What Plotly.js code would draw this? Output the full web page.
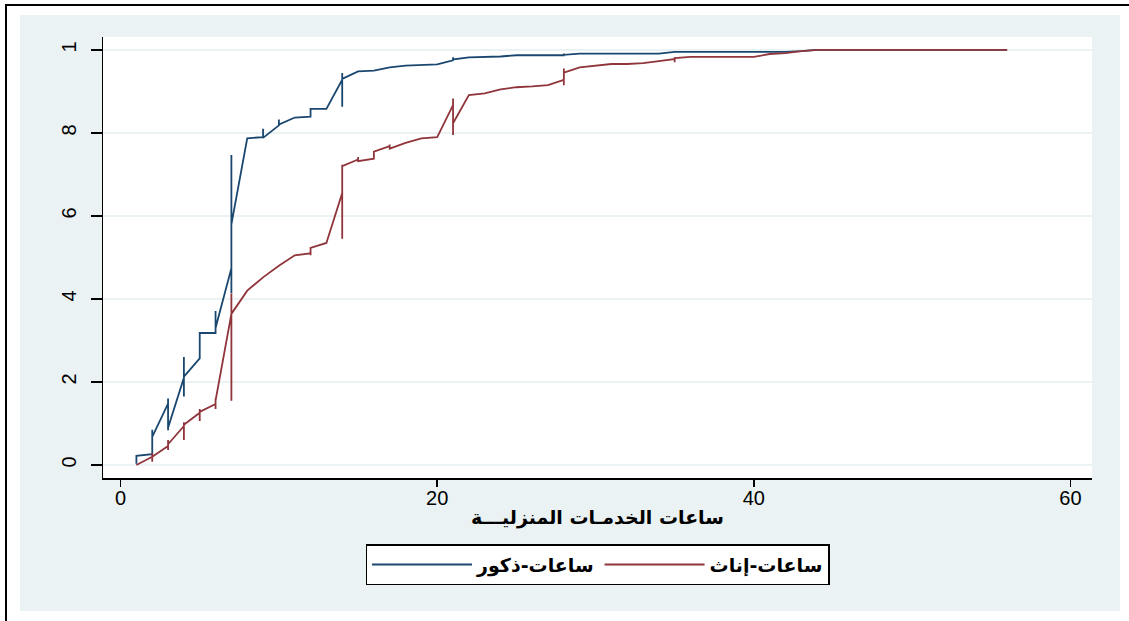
<!DOCTYPE html>
<html>
<head>
<meta charset="utf-8">
<script src="https://cdn.plot.ly/plotly-3.0.1.min.js"></script>
<style>
  html, body { margin: 0; padding: 0; background: #ffffff; width: 1129px; height: 621px; overflow: hidden; }
  #frame { position: absolute; left: 5px; top: 4px; width: 1140px; height: 640px;
           border-left: 2.5px solid #000; border-top: 2.5px solid #000; }
  #chart { position: absolute; left: 20px; top: 15px; width: 1100px; height: 596px; }
</style>
</head>
<body>
<div id="frame"></div>
<div id="chart"></div>
<script>
// ---- data ----
const seriesNames = ["ساعات-ذكور", "ساعات-إناث"];
const xTitle = "ساعات الخدمـات المنزليـــة";
const xTickVals = [0, 20, 40, 60];
const xTickLabels = ["0", "20", "40", "60"];
const yTickVals = [0, 0.2, 0.4, 0.6, 0.8, 1];
const yTickLabels = ["0", "2", "4", "6", "8", "1"];

// males (blue) – path as drawn
const maleX = [1,1,2,2,2,3,3,3,3,4,4,4,4,5,5,6,6,6,7,7,7,7,8,9,9,9,10,10,10,11,12,12,13,14,14,14,14,15,16,17,18,20,21,21,21,22,24,25,28,28,28,29,34,35,42,43,44,56];
const maleY = [0.003,0.022,0.026,0.085,0.068,0.148,0.16,0.084,0.09,0.21,0.26,0.165,0.213,0.257,0.318,0.318,0.371,0.33,0.474,0.747,0.414,0.58,0.787,0.79,0.81,0.788,0.818,0.832,0.82,0.837,0.839,0.858,0.858,0.928,0.944,0.863,0.93,0.948,0.95,0.958,0.962,0.965,0.975,0.982,0.977,0.982,0.984,0.987,0.987,0.991,0.988,0.991,0.991,0.995,0.995,0.997,1,1];

// females (red) – path as drawn
const femaleX = [1,2,2,2,2,3,3,3,3,4,4,4,4,5,5,5,5,6,6,6,6,7,7,7,7,8,9,10,11,12,12,12,12,13,14,14,14,14,15,15,15,16,16,17,17,17,18,19,20,21,21,21,21,22,23,24,25,26,27,28,28,28,28,29,30,31,32,33,34,35,35,35,36,40,41,42,43,44,56];
const femaleY = [0.0,0.02,0.029,0.008,0.02,0.046,0.06,0.036,0.05,0.094,0.103,0.06,0.097,0.126,0.135,0.106,0.128,0.147,0.16,0.135,0.155,0.364,0.413,0.155,0.364,0.42,0.452,0.48,0.505,0.51,0.52,0.505,0.523,0.535,0.655,0.723,0.545,0.72,0.736,0.742,0.732,0.738,0.755,0.768,0.772,0.762,0.776,0.787,0.79,0.867,0.883,0.795,0.823,0.891,0.895,0.905,0.91,0.912,0.915,0.928,0.955,0.915,0.945,0.958,0.962,0.966,0.966,0.968,0.973,0.978,0.97,0.98,0.983,0.983,0.99,0.992,0.997,1,1];

const colors = ["#1a476f", "#90353b"];
const bg = "#eaf2f3";
const numFont = "Liberation Sans, Arial, DejaVu Sans, sans-serif";
const arFont = "DejaVu Sans, Liberation Sans, sans-serif";

const traces = [
  { x: maleX, y: maleY, name: seriesNames[0], type: "scatter", mode: "lines",
    line: { color: colors[0], width: 1.8 } },
  { x: femaleX, y: femaleY, name: seriesNames[1], type: "scatter", mode: "lines",
    line: { color: colors[1], width: 1.8 } }
];

const layout = {
  width: 1100, height: 596,
  paper_bgcolor: bg, plot_bgcolor: "#ffffff",
  margin: { l: 83, r: 28, t: 22, b: 133 },
  showlegend: true,
  xaxis: {
    range: [-1.11, 61.36], tickvals: xTickVals, ticktext: xTickLabels,
    showgrid: false, zeroline: false, showline: true, linecolor: "#000", linewidth: 1.5,
    ticks: "outside", ticklen: 7, tickwidth: 1.5, tickcolor: "#000",
    ticklabelstandoff: -6,
    tickfont: { family: numFont, size: 20, color: "#000" },
    title: { text: xTitle, standoff: 3, font: { family: arFont, size: 19, color: "#000", weight: "bold" } }
  },
  yaxis: {
    range: [-0.0313, 1.031], tickvals: yTickVals, ticktext: yTickLabels,
    showgrid: true, gridcolor: bg, gridwidth: 1.5, zeroline: false,
    showline: true, linecolor: "#000", linewidth: 1.5,
    ticks: "outside", ticklen: 11, tickwidth: 1.5, tickcolor: "#000",
    tickangle: -90, ticklabelstandoff: 7,
    tickfont: { family: numFont, size: 20, color: "#000" }
  },
  legend: {
    orientation: "h", x: 0.5, xanchor: "center", y: -0.15, yanchor: "top",
    bgcolor: "#ffffff", bordercolor: "#000", borderwidth: 1.5,
    itemwidth: 100, traceorder: "normal",
    font: { family: arFont, size: 19, color: "#000", weight: "bold" }
  }
};

Plotly.newPlot("chart", traces, layout, { displayModeBar: false, staticPlot: true });
</script>
</body>
</html>
